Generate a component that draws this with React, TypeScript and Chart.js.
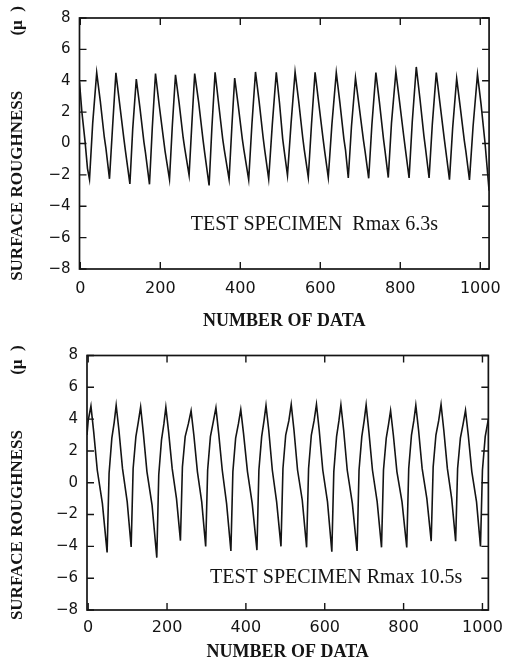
import React, { useEffect, useRef } from "react";
import { Chart, registerables } from "chart.js";

Chart.register(...registerables);

// ---- text ----
const X_TITLE = "NUMBER OF DATA";
const Y_TITLE = "SURFACE ROUGHNESS             (\u03BC  )";
const TOP_NOTE = "TEST SPECIMEN  Rmax 6.3s";
const BOTTOM_NOTE = "TEST SPECIMEN Rmax 10.5s";

// ---- ticks ----
const X_TICKS = [0, 200, 400, 600, 800, 1000];
const Y_MIN = -8;
const Y_MAX = 8;
const Y_STEP = 2;

// ---- series: [number of data, surface roughness (micron)] ----
const topSeries: [number, number][] = [
  [-2, 3.9], [4, 2.0], [12, 0.1], [18, -1.6],
  [23, -2.28], [31, 1.3], [41, 4.52], [50, 2.7], [60, 0.4], [64, -0.3],
  [73, -2.25], [81, 1.2], [89, 4.5], [98, 2.6], [109, 0.3], [113, -0.5],
  [124, -2.58], [131, 0.9], [140, 4.11], [149, 2.3], [159, 0.1], [163, -0.6],
  [173, -2.6], [180, 1.0], [188, 4.46], [197, 2.5], [208, 0.3], [212, -0.5],
  [223, -2.28], [230, 1.1], [238, 4.38], [247, 2.6], [257, 0.4], [261, -0.3],
  [272, -2.03], [279, 1.3], [286, 4.46], [296, 2.6], [307, 0.2], [311, -0.6],
  [322, -2.67], [329, 1.0], [337, 4.54], [346, 2.5], [356, 0.3], [360, -0.4],
  [372, -2.28], [379, 1.1], [386, 4.17], [395, 2.4], [405, 0.3], [409, -0.4],
  [421, -2.3], [429, 1.2], [438, 4.56], [447, 2.7], [457, 0.4], [461, -0.4],
  [471, -2.26], [480, 1.2], [490, 4.54], [498, 2.6], [506, 0.3], [510, -0.5],
  [518, -2.03], [527, 1.3], [537, 4.56], [546, 2.7], [556, 0.4], [560, -0.4],
  [570, -2.15], [578, 1.2], [587, 4.54], [596, 2.6], [607, 0.3], [611, -0.5],
  [620, -2.17], [629, 1.2], [640, 4.52], [649, 2.6], [659, 0.3], [663, -0.4],
  [670, -2.2], [678, 1.1], [688, 4.19], [697, 2.4], [708, 0.2], [712, -0.5],
  [721, -2.22], [729, 1.2], [739, 4.52], [748, 2.6], [758, 0.3], [762, -0.5],
  [770, -2.17], [778, 1.3], [789, 4.56], [798, 2.7], [809, 0.4], [813, -0.4],
  [822, -2.2], [830, 1.4], [840, 4.88], [849, 2.9], [859, 0.5], [863, -0.3],
  [872, -2.2], [880, 1.2], [890, 4.52], [899, 2.6], [910, 0.3], [914, -0.5],
  [923, -2.3], [931, 1.0], [941, 4.14], [950, 2.3], [960, 0.2], [964, -0.5],
  [973, -2.32], [982, 1.1], [993, 4.41], [1002, 2.5], [1012, 0.0], [1022, -3.0],
];

const bottomSeries: [number, number][] = [
  [-3, 3.0], [0, 3.9],
  [7, 4.82], [14, 3.2], [23, 0.8], [36, -1.3],
  [48, -4.38], [53, 0.6], [60, 2.8], [66, 3.8],
  [71, 4.87], [78, 3.3], [87, 0.9], [99, -1.2],
  [109, -4.04], [114, 0.9], [121, 2.9], [127, 3.8],
  [133, 4.76], [140, 3.1], [149, 0.7], [162, -1.4],
  [174, -4.71], [179, 0.5], [186, 2.7], [192, 3.7],
  [197, 4.75], [204, 3.2], [213, 0.9], [224, -1.0],
  [234, -3.64], [239, 1.0], [246, 2.9], [254, 3.7],
  [261, 4.52], [268, 3.0], [277, 0.7], [288, -1.2],
  [298, -4.01], [303, 0.8], [310, 2.9], [317, 3.8],
  [324, 4.72], [331, 3.1], [340, 0.8], [351, -1.3],
  [362, -4.29], [367, 0.7], [374, 2.8], [381, 3.7],
  [387, 4.6], [394, 3.1], [404, 0.7], [416, -1.3],
  [428, -4.24], [433, 0.8], [440, 2.9], [446, 3.9],
  [451, 4.86], [458, 3.3], [467, 0.8], [478, -1.2],
  [489, -4.0], [494, 0.9], [501, 3.0], [509, 3.9],
  [515, 4.93], [522, 3.3], [531, 0.8], [543, -1.1],
  [554, -4.06], [559, 0.9], [566, 3.0], [573, 3.9],
  [579, 4.92], [586, 3.3], [595, 0.8], [607, -1.2],
  [618, -4.34], [623, 0.7], [630, 2.9], [636, 3.9],
  [641, 4.9], [648, 3.3], [657, 0.8], [670, -1.3],
  [682, -4.29], [687, 0.8], [694, 2.9], [700, 3.9],
  [705, 4.9], [712, 3.2], [721, 0.8], [733, -1.2],
  [744, -4.06], [749, 0.8], [756, 2.8], [762, 3.7],
  [767, 4.53], [774, 3.0], [783, 0.7], [796, -1.2],
  [808, -4.07], [813, 0.9], [820, 3.0], [826, 3.9],
  [831, 4.87], [838, 3.3], [847, 0.9], [859, -1.0],
  [870, -3.67], [875, 1.0], [882, 3.0], [889, 3.9],
  [895, 4.92], [902, 3.3], [911, 0.9], [922, -1.0],
  [932, -3.68], [937, 0.9], [944, 2.8], [951, 3.7],
  [957, 4.55], [964, 3.0], [973, 0.7], [985, -1.2],
  [995, -4.0], [1000, 0.8], [1007, 2.9], [1015, 4.0],
];

// annotation anchor (data coordinates)
const TOP_NOTE_AT: [number, number] = [276, -5.2];
const BOTTOM_NOTE_AT: [number, number] = [309, -6.0];

const INK = "#141414";

const fmt = (v: number) => (v < 0 ? "\u2212" + Math.abs(v) : String(v));

const framePlugin = {
  id: "frame",
  afterDatasetsDraw(chart: any, _args: any, opts: any) {
    const { ctx, chartArea } = chart;
    const { left, right, top, bottom } = chartArea;
    const xs = chart.scales.x;
    const ys = chart.scales.y;
    ctx.save();
    ctx.strokeStyle = INK;
    ctx.lineWidth = 1.7;
    ctx.strokeRect(left, top, right - left, bottom - top);
    ctx.lineWidth = 1.4;
    ctx.beginPath();
    const tl = 7;
    xs.ticks.forEach((t: any) => {
      const p = xs.getPixelForValue(t.value);
      ctx.moveTo(p, bottom);
      ctx.lineTo(p, bottom - tl);
      ctx.moveTo(p, top);
      ctx.lineTo(p, top + tl);
    });
    ys.ticks.forEach((t: any) => {
      const p = ys.getPixelForValue(t.value);
      ctx.moveTo(left, p);
      ctx.lineTo(left + tl, p);
      ctx.moveTo(right, p);
      ctx.lineTo(right - tl, p);
    });
    ctx.stroke();
    if (opts && opts.text) {
      ctx.font = '20px "Liberation Serif"';
      ctx.fillStyle = INK;
      ctx.textAlign = "left";
      ctx.textBaseline = "middle";
      ctx.fillText(
        opts.text,
        xs.getPixelForValue(opts.at[0]),
        ys.getPixelForValue(opts.at[1])
      );
    }
    ctx.restore();
  },
};

type PanelProps = {
  series: [number, number][];
  note: string;
  noteAt: [number, number];
  xMin: number;
  xMax: number;
  height: number;
  padTop: number;
  padRight: number;
  yWidth: number;
  xHeight: number;
  xLabelPad: number;
  xTitlePad: number;
};

function Panel(p: PanelProps) {
  const ref = useRef<HTMLCanvasElement | null>(null);
  useEffect(() => {
    if (!ref.current) return;
    const chart = new Chart(ref.current, {
      type: "line",
      data: {
        datasets: [
          {
            data: p.series.map(([x, y]) => ({ x, y })),
            borderColor: INK,
            borderWidth: 1.6,
            pointRadius: 0,
            tension: 0,
            fill: false,
          },
        ],
      },
      plugins: [framePlugin],
      options: {
        animation: false,
        responsive: false,
        events: [],
        layout: {
          autoPadding: false,
          padding: { left: 0, right: p.padRight, top: p.padTop, bottom: 0 },
        },
        plugins: {
          legend: { display: false },
          tooltip: { enabled: false },
          frame: { text: p.note, at: p.noteAt },
        } as any,
        scales: {
          x: {
            type: "linear",
            min: p.xMin,
            max: p.xMax,
            afterBuildTicks: (s: any) => {
              s.ticks = X_TICKS.map((v) => ({ value: v }));
            },
            afterFit: (s: any) => {
              s.height = p.xHeight;
            },
            grid: { display: false, drawTicks: false },
            border: { display: false },
            ticks: {
              padding: p.xLabelPad,
              color: INK,
              autoSkip: false,
              maxRotation: 0,
              font: { family: "'DejaVu Sans'", size: 16 },
              callback: (v: any) => fmt(Number(v)),
            },
            title: {
              display: true,
              text: X_TITLE,
              color: INK,
              font: { family: "'Liberation Serif'", size: 18, weight: "bold" },
              padding: { top: 0, bottom: p.xTitlePad },
            },
          },
          y: {
            type: "linear",
            min: Y_MIN,
            max: Y_MAX,
            afterFit: (s: any) => {
              s.width = p.yWidth;
            },
            grid: { display: false, drawTicks: false },
            border: { display: false },
            ticks: {
              stepSize: Y_STEP,
              padding: 9,
              color: INK,
              font: { family: "'DejaVu Sans'", size: 15 },
              callback: (v: any) => fmt(Number(v)),
            },
            title: {
              display: true,
              text: Y_TITLE,
              color: INK,
              font: { family: "'Liberation Serif'", size: 17, weight: "bold" },
              padding: { top: 7, bottom: 0 },
            },
          },
        },
      } as any,
    });
    return () => chart.destroy();
  }, []);
  return (
    <canvas
      ref={ref}
      width={511}
      height={p.height}
      style={{ display: "block", width: 511, height: p.height }}
    />
  );
}

export default function App() {
  return (
    <div
      style={{
        position: "fixed",
        left: 0,
        top: 0,
        width: 511,
        height: 664,
        background: "#fff",
      }}
    >
      <div style={{ position: "absolute", left: 0, top: 0 }}>
        <Panel
          series={topSeries}
          note={TOP_NOTE}
          noteAt={TOP_NOTE_AT}
          xMin={-2}
          xMax={1022}
          height={332}
          padTop={10}
          padRight={17}
          yWidth={79.5}
          xHeight={63}
          xLabelPad={10}
          xTitlePad={0}
        />
      </div>
      <div style={{ position: "absolute", left: 0, top: 332 }}>
        <Panel
          series={bottomSeries}
          note={BOTTOM_NOTE}
          noteAt={BOTTOM_NOTE_AT}
          xMin={-3}
          xMax={1015}
          height={332}
          padTop={23.5}
          padRight={13}
          yWidth={87}
          xHeight={54}
          xLabelPad={8}
          xTitlePad={1}
        />
      </div>
    </div>
  );
}
